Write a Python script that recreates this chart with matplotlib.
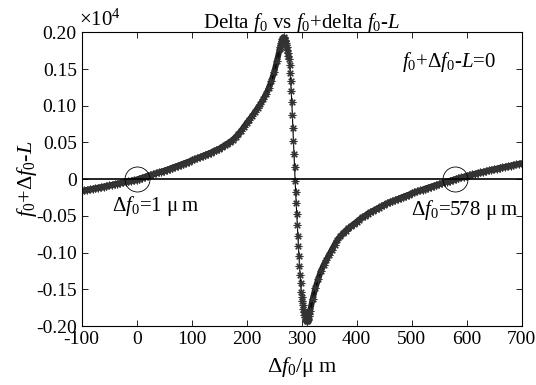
import matplotlib
matplotlib.use('Agg')
import matplotlib.pyplot as plt

plt.rcParams['font.family'] = ['Liberation Serif', 'DejaVu Serif']
plt.rcParams['mathtext.fontset'] = 'custom'
plt.rcParams['mathtext.rm'] = 'Liberation Serif'
plt.rcParams['mathtext.it'] = 'Liberation Serif:italic'

# values (y in units of 1e4)
x_left = [-100, -95, -90, -85, -80, -75, -70, -65, -60, -55, -50, -45, -40, -35, -30,
          -25, -20, -15, -10, -5, 0, 5, 10, 15, 20, 25, 30, 35, 40, 45, 50, 55, 60,
          65, 70, 75, 80, 85, 90, 95, 100, 105, 110, 115, 120, 125, 130, 135, 140,
          145, 150, 155, 160, 165, 170, 175, 180, 185, 190, 195, 200, 205, 210, 215,
          220, 225, 230, 235, 240, 245, 250, 255, 260]
y_left = [-0.0160, -0.0152, -0.0145, -0.0138, -0.0130, -0.0123, -0.0115, -0.0108,
          -0.0100, -0.0093, -0.0085, -0.0077, -0.0069, -0.0061, -0.0053, -0.0045,
          -0.0037, -0.0029, -0.0021, -0.0013, -0.0005, 0.0007, 0.0019, 0.0031, 0.0043,
          0.0055, 0.0067, 0.0079, 0.0091, 0.0103, 0.0115, 0.0128, 0.0142, 0.0156,
          0.0170, 0.0184, 0.0198, 0.0212, 0.0226, 0.0240, 0.0255, 0.0270, 0.0285,
          0.0300, 0.0315, 0.0331, 0.0347, 0.0363, 0.0379, 0.0396, 0.0414, 0.0436,
          0.0459, 0.0484, 0.0510, 0.0538, 0.0575, 0.0615, 0.0660, 0.0710, 0.0765,
          0.0810, 0.0860, 0.0915, 0.0970, 0.1020, 0.1085, 0.1155, 0.1235, 0.1340,
          0.1460, 0.1610, 0.1770]

x_mid = [261, 262, 263, 264, 265, 266, 267, 268, 269, 270, 271, 272, 273, 274, 275,
         276, 277, 278, 279, 280, 281, 282, 283, 284, 285, 286, 287, 288, 289, 290,
         291, 292, 293, 294, 295, 296, 297, 298, 299, 300, 301, 302, 303, 304, 305,
         306, 307, 308, 309, 310, 311, 312, 313, 314, 315]
y_mid = [0.1800, 0.1830, 0.1860, 0.1885, 0.1905, 0.1920, 0.1930, 0.1920, 0.1900,
         0.1880, 0.1855, 0.1830, 0.1800, 0.1765, 0.1720, 0.1680, 0.1630, 0.1550,
         0.1450, 0.1330, 0.1200, 0.1050, 0.0880, 0.0700, 0.0520, 0.0340, 0.0160,
         -0.0020, -0.0180, -0.0330, -0.0480, -0.0630, -0.0770, -0.0910, -0.1050,
         -0.1180, -0.1300, -0.1420, -0.1530, -0.1600, -0.1660, -0.1710, -0.1770,
         -0.1810, -0.1850, -0.1880, -0.1900, -0.1920, -0.1930, -0.1930, -0.1920,
         -0.1900, -0.1870, -0.1840, -0.1800]

x_right = [320, 325, 330, 335, 340, 345, 350, 355, 360, 365, 370, 375, 380, 385, 390,
           395, 400, 405, 410, 415, 420, 425, 430, 435, 440, 445, 450, 455, 460, 465,
           470, 475, 480, 485, 490, 495, 500, 505, 510, 515, 520, 525, 530, 535, 540,
           545, 550, 555, 560, 565, 570, 575, 580, 585, 590, 595, 600, 605, 610, 615,
           620, 625, 630, 635, 640, 645, 650, 655, 660, 665, 670, 675, 680, 685, 690,
           695, 700]
y_right = [-0.163, -0.148, -0.136, -0.125, -0.117, -0.110, -0.103, -0.096, -0.089,
           -0.083, -0.078, -0.074, -0.070, -0.067, -0.064, -0.061, -0.058, -0.055,
           -0.052, -0.050, -0.047, -0.045, -0.043, -0.041, -0.039, -0.037, -0.035,
           -0.033, -0.0315, -0.030, -0.0285, -0.027, -0.0255, -0.024, -0.0225, -0.021,
           -0.0195, -0.018, -0.0167, -0.0154, -0.0141, -0.0128, -0.0115, -0.0103,
           -0.0091, -0.0079, -0.0067, -0.0055, -0.0043, -0.0032, -0.0021, -0.0010,
           0.0002, 0.0013, 0.0024, 0.0034, 0.0044, 0.0054, 0.0064, 0.0073, 0.0082,
           0.0091, 0.0100, 0.0109, 0.0118, 0.0127, 0.0136, 0.0145, 0.0153, 0.0161,
           0.0169, 0.0177, 0.0185, 0.0193, 0.0201, 0.0209, 0.0217]

roots_x = [1, 578]
x_ticks = [-100, 0, 100, 200, 300, 400, 500, 600, 700]
y_ticks = [-0.20, -0.15, -0.10, -0.05, 0, 0.05, 0.10, 0.15, 0.20]
y_ticklabels = ['-0.20', '-0.15', '-0.10', '-0.05', '0', '0.05', '0.10', '0.15', '0.20']

xs = x_left + x_mid + x_right
ys = y_left + y_mid + y_right

fig = plt.figure(figsize=(5.36, 3.85), dpi=100)
ax = fig.add_axes([0.1524, 0.1532, 0.8209, 0.7629])

# densely sampled parts show as a solid band of markers
ax.plot(x_left + x_mid[:8], y_left + y_mid[:8], color='#222222', linewidth=4.2,
        solid_capstyle='round')
ax.plot(x_mid[-8:] + x_right, y_mid[-8:] + y_right, color='#222222', linewidth=4.2,
        solid_capstyle='round')
ax.plot(xs, ys, color='black', linewidth=0.8, marker=(8, 2, 0), markersize=5.5,
        markeredgewidth=0.8, markeredgecolor='#333333')
ax.plot([-100, 700], [0, 0], color='black', linewidth=1.2)
ax.plot(roots_x, [0, 0], linestyle='none', marker='o', markersize=18,
        markerfacecolor='none', markeredgecolor='black', markeredgewidth=0.6)

ax.set_xlim(-100, 700)
ax.set_ylim(-0.2, 0.2)
ax.set_xticks(x_ticks)
ax.set_xticklabels([str(v) for v in x_ticks])
ax.set_yticks(y_ticks)
ax.set_yticklabels(y_ticklabels)
ax.tick_params(direction='in', top=True, right=True, labelsize=14, length=4, width=0.6)
for s in ax.spines.values():
    s.set_linewidth(0.8)

ax.text(482, 0.153, '$f_0$+Δ$f_0$-$L$=0', fontsize=15)
ax.text(-45, -0.043, 'Δ$f_0$=1 μ\u2009m', fontsize=15)
ax.text(499, -0.049, 'Δ$f_0$=578 μ\u2009m', fontsize=15)

ax.set_title('Delta $f_0$ vs $f_0$+delta $f_0$-$L$', fontsize=15, pad=3)
ax.text(-0.005, 1.005, '×10$^4$', transform=ax.transAxes, fontsize=15, va='bottom')
ax.set_xlabel('Δ$f_0$/μ\u2009m', fontsize=16, labelpad=5)
ax.set_ylabel('$f_0$+Δ$f_0$-$L$', fontsize=16, labelpad=-2)

fig.savefig('out.png', dpi=100, facecolor='white')
